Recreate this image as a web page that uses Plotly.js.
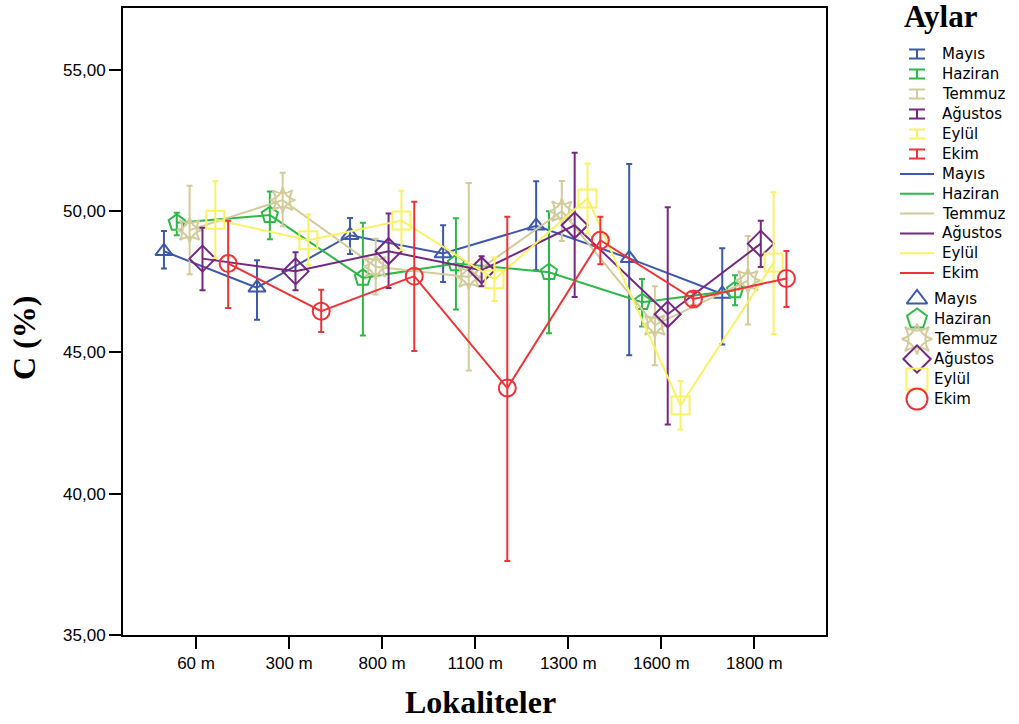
<!DOCTYPE html>
<html>
<head>
<meta charset="utf-8">
<script src="https://cdn.plot.ly/plotly-3.0.1.min.js"></script>
<style>
  html, body { margin: 0; padding: 0; background: #ffffff; }
  #chart { width: 1019px; height: 724px; }
</style>
</head>
<body>
<div id="chart"></div>
<script>
// Sampling sites (altitude) and months
const locations = ['60 m', '300 m', '800 m', '1100 m', '1300 m', '1600 m', '1800 m'];
const months = ['Mayıs', 'Haziran', 'Temmuz', 'Ağustos', 'Eylül', 'Ekim'];
const yTickValues = [35, 40, 45, 50, 55];
const yTickLabels = ['35,00', '40,00', '45,00', '50,00', '55,00'];

// Mean C (%) with lower / upper error bar limits, one value per site
const mayisMean = [48.58, 47.29, 49.15, 48.50, 49.48, 48.33, 47.07];
const mayisLow  = [47.97, 46.16, 48.48, 47.49, 47.91, 44.90, 45.28];
const mayisHigh = [49.30, 48.26, 49.76, 49.50, 51.06, 51.67, 48.69];

const haziranMean = [49.59, 49.86, 47.64, 48.15, 47.84, 46.78, 47.20];
const haziranLow  = [49.15, 49.01, 45.60, 46.52, 45.68, 45.92, 46.67];
const haziranHigh = [49.94, 50.70, 49.59, 49.75, 50.00, 47.60, 47.73];

const temmuzMean = [49.33, 50.39, 48.03, 47.67, 50.00, 45.97, 47.54];
const temmuzLow  = [47.77, 49.47, 47.05, 44.36, 48.94, 44.55, 45.99];
const temmuzHigh = [50.90, 51.36, 49.02, 51.00, 51.07, 47.34, 49.12];

const agustosMean = [48.32, 47.87, 48.58, 47.91, 49.50, 46.35, 48.85];
const agustosLow  = [47.20, 47.20, 47.28, 47.34, 46.96, 42.45, 48.02];
const agustosHigh = [49.41, 48.55, 49.92, 48.40, 52.07, 50.14, 49.66];

const eylulMean = [49.70, 48.97, 49.67, 47.59, 50.45, 43.12, 48.18];
const eylulLow  = [48.34, 48.09, 48.62, 46.82, 49.21, 42.27, 45.65];
const eylulHigh = [51.06, 49.88, 50.72, 48.36, 51.69, 43.98, 50.67];

const ekimMean = [48.15, 46.46, 47.70, 43.74, 48.97, 46.89, 47.62];
const ekimLow  = [46.57, 45.72, 45.05, 37.62, 48.12, 46.66, 46.61];
const ekimHigh = [49.66, 47.22, 50.33, 49.80, 49.80, 47.13, 48.59];

const seriesMean = [mayisMean, haziranMean, temmuzMean, agustosMean, eylulMean, ekimMean];
const seriesLow  = [mayisLow, haziranLow, temmuzLow, agustosLow, eylulLow, ekimLow];
const seriesHigh = [mayisHigh, haziranHigh, temmuzHigh, agustosHigh, eylulHigh, ekimHigh];

// Styling
const colors = ['#3e58ac', '#2eb848', '#d2cc9c', '#742980', '#f8f264', '#ef3338'];
const symbols = ['triangle-up-open', 'pentagon-open', 'star-square-open', 'diamond-open', 'square-open', 'circle-open'];
const plotSizes = [15, 17, 18, 20, 18, 17];
const legendSizes = [18, 21, 22, 21, 21, 21];
const dodge = 0.138;

const sansFont = 'Liberation Sans, Arial, sans-serif';
const legendFont = 'DejaVu Sans, Arial, sans-serif';
const serifFont = 'Liberation Serif, Times New Roman, serif';

const traces = [];

months.forEach((name, i) => {
  const mean = seriesMean[i];
  const xs = locations.map((_, k) => k + (i - 2.5) * dodge);
  traces.push({
    type: 'scatter',
    mode: 'lines+markers',
    name: name,
    x: xs,
    y: mean,
    line: { color: colors[i], width: 2 },
    marker: {
      symbol: symbols[i],
      size: plotSizes[i],
      color: colors[i],
      line: { color: colors[i], width: 2 }
    },
    error_y: {
      type: 'data',
      symmetric: false,
      array: mean.map((m, k) => seriesHigh[i][k] - m),
      arrayminus: mean.map((m, k) => m - seriesLow[i][k]),
      color: colors[i],
      thickness: 2,
      width: 3
    },
    showlegend: false,
    hoverinfo: 'x+y'
  });
  if (symbols[i] === 'star-square-open') {
    // second four-point star turned 45° completes the eight-point marker
    traces.push({
      type: 'scatter',
      mode: 'markers',
      x: xs,
      y: mean,
      marker: {
        symbol: 'star-diamond-open', size: plotSizes[i], color: colors[i],
        line: { color: colors[i], width: 2 }
      },
      showlegend: false,
      hoverinfo: 'skip'
    });
  }
});

// Legend panel drawn on its own pixel-scaled axes
const legendX0 = 123 + 0.8 * 886;
const annotations = [];
months.forEach((name, i) => {
  const rowErr = 54 + 20 * i;
  const rowLine = 174 + 19.8 * i;
  const rowMark = 299 + 20 * i;

  traces.push({
    type: 'scatter', mode: 'markers', xaxis: 'x2', yaxis: 'y2',
    x: [917], y: [rowErr],
    marker: { size: 1, opacity: 0, color: colors[i] },
    error_y: { type: 'constant', value: 4.5, color: colors[i], thickness: 2, width: 8 },
    showlegend: false, hoverinfo: 'skip'
  });
  traces.push({
    type: 'scatter', mode: 'lines', xaxis: 'x2', yaxis: 'y2',
    x: [900, 934], y: [rowLine, rowLine],
    line: { color: colors[i], width: 2 },
    showlegend: false, hoverinfo: 'skip'
  });
  traces.push({
    type: 'scatter', mode: 'markers', xaxis: 'x2', yaxis: 'y2',
    x: [917], y: [rowMark],
    marker: {
      symbol: symbols[i], size: legendSizes[i], color: colors[i],
      line: { color: colors[i], width: 2 }
    },
    showlegend: false, hoverinfo: 'skip'
  });
  if (symbols[i] === 'star-square-open') {
    traces.push({
      type: 'scatter', mode: 'markers', xaxis: 'x2', yaxis: 'y2',
      x: [917], y: [rowMark],
      marker: {
        symbol: 'star-diamond-open', size: legendSizes[i], color: colors[i],
        line: { color: colors[i], width: 2 }
      },
      showlegend: false, hoverinfo: 'skip'
    });
  }

  [[940, rowErr], [940, rowLine], [932, rowMark]].forEach(([tx, ty]) => {
    annotations.push({
      xref: 'x2', yref: 'y2', x: tx, y: ty,
      xanchor: 'left', yanchor: 'middle',
      text: name, showarrow: false,
      font: { family: legendFont, size: 15, color: '#000000' }
    });
  });
});

// Legend heading and axis titles
annotations.push({
  xref: 'paper', yref: 'paper',
  x: (902 - 123) / 886, y: (635 - 17) / 627,
  xanchor: 'left', yanchor: 'middle',
  text: '<b>Aylar</b>', showarrow: false,
  font: { family: serifFont, size: 31, color: '#000000' }
});
annotations.push({
  xref: 'paper', yref: 'paper',
  x: (24 - 123) / 886, y: (635 - 338) / 627,
  xanchor: 'center', yanchor: 'middle', textangle: -90,
  text: '<b>C (%)</b>', showarrow: false,
  font: { family: serifFont, size: 32, color: '#000000' }
});
annotations.push({
  xref: 'paper', yref: 'paper',
  x: (480 - 123) / 886, y: (635 - 702) / 627,
  xanchor: 'center', yanchor: 'middle',
  text: '<b>Lokaliteler</b>', showarrow: false,
  font: { family: serifFont, size: 32, color: '#000000' }
});

const layout = {
  width: 1019,
  height: 724,
  margin: { l: 123, r: 10, t: 8, b: 89, pad: 0 },
  paper_bgcolor: '#ffffff',
  plot_bgcolor: '#ffffff',
  showlegend: false,
  xaxis: {
    domain: [0, 703 / 886],
    range: [-0.785, 6.77],
    tickmode: 'array',
    tickvals: locations.map((_, k) => k),
    ticktext: locations,
    ticks: 'outside', ticklen: 12, tickwidth: 2, tickcolor: '#000000',
    showline: true, linecolor: '#000000', linewidth: 2, mirror: true,
    showgrid: false, zeroline: false,
    tickfont: { family: sansFont, size: 17, color: '#000000' }
  },
  yaxis: {
    range: [35, 57.19],
    tickmode: 'array',
    tickvals: yTickValues,
    ticktext: yTickLabels,
    ticks: 'outside', ticklen: 12, tickwidth: 2, tickcolor: '#000000',
    showline: true, linecolor: '#000000', linewidth: 2, mirror: true,
    showgrid: false, zeroline: false,
    tickfont: { family: sansFont, size: 17, color: '#000000' }
  },
  xaxis2: {
    domain: [0.8, 1], anchor: 'y2',
    range: [legendX0, 1009],
    visible: false, fixedrange: true
  },
  yaxis2: {
    domain: [0, 1], anchor: 'x2',
    range: [635, 8],
    visible: false, fixedrange: true
  },
  annotations: annotations
};

Plotly.newPlot('chart', traces, layout, { staticPlot: true, displayModeBar: false });
</script>
</body>
</html>
